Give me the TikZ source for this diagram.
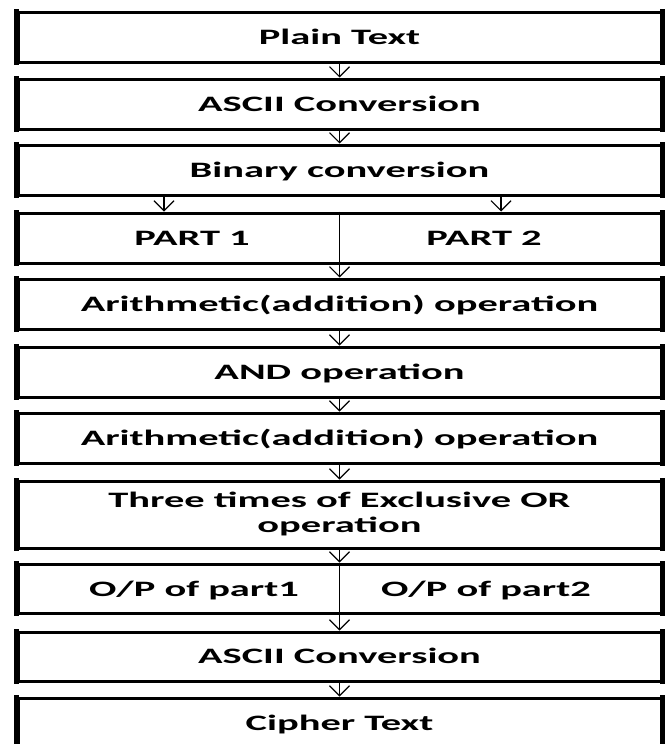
\documentclass[tikz,border=0pt]{standalone}
\usepackage{fontspec}
\setmainfont{Carlito}[FakeStretch=1.84]
\usetikzlibrary{arrows.meta}
\begin{document}
\begin{tikzpicture}[x=1pt,y=-1pt,
  stagebox/.style={draw, line width=3pt, minimum width=643pt, inner sep=0pt,
    font=\fontsize{22}{25}\selectfont\bfseries, align=center,
    append after command={
      (\tikzlastnode.north west) edge[draw, line width=5pt, shorten <=-1.5pt, shorten >=-1.5pt] (\tikzlastnode.south west)
      (\tikzlastnode.north east) edge[draw, line width=5pt, shorten <=-1.5pt, shorten >=-1.5pt] (\tikzlastnode.south east)}},
  stage/.style={stagebox, text height=14pt, text depth=0pt},
  lbl/.style={inner sep=0pt, font=\fontsize{22}{25}\selectfont\bfseries, text height=14pt, text depth=0pt},
  arr/.style={draw, line width=1.1pt, -{Straight Barb[length=10pt,width=20pt,line width=1.1pt]}},
  divider/.style={draw, line width=1.3pt}]
\useasboundingbox (0,0) rectangle (667,744);
\node[stage, minimum height=50pt] (b1) at (339.5,37) {Plain Text};
\node[stage, minimum height=50pt] (b2) at (339.5,104) {ASCII Conversion};
\node[stage, minimum height=50pt] (b3) at (339.5,170) {Binary conversion};
\node[stage, minimum height=50pt] (b4) at (339.5,238) {};
\node[lbl] (p1) at (192,238) {PART 1};
\node[lbl] (p2) at (484,238) {PART 2};
\node[stage, minimum height=50pt] (b5) at (339.5,304) {Arithmetic(addition) operation};
\node[stage, minimum height=50pt] (b6) at (339.5,372) {AND operation};
\node[stage, minimum height=50pt] (b7) at (339.5,438) {Arithmetic(addition) operation};
\node[stagebox, minimum height=67pt] (b8) at (339.5,514.5) {\raisebox{-6pt}{\begin{tabular}{@{}c@{}}Three times of Exclusive OR\\operation\end{tabular}}};
\node[stage, minimum height=49pt] (b9) at (339.5,588.5) {};
\node[lbl] (o1) at (194,589) {O/P of part1};
\node[lbl] (o2) at (486,589) {O/P of part2};
\node[stage, minimum height=49pt] (b10) at (339.5,656.5) {ASCII Conversion};
\node[stage, minimum height=50pt] (b11) at (339.5,723) {Cipher Text};
\coordinate (c1) at (164,0);
\coordinate (c2) at (501,0);
\draw[arr] (b1.south) -- (b2.north);
\draw[arr] (b2.south) -- (b3.north);
\draw[arr] (b3.south -| c1) -- (b4.north -| c1);
\draw[arr] (b3.south -| c2) -- (b4.north -| c2);
\draw[divider] (b4.north) -- (b4.south);
\draw[arr] (b4.south) -- (b5.north);
\draw[arr] (b5.south) -- (b6.north);
\draw[arr] (b6.south) -- (b7.north);
\draw[arr] (b7.south) -- (b8.north);
\draw[arr] (b8.south) -- (b9.north);
\draw[divider] (b9.north) -- (b9.south);
\draw[arr] (b9.south) -- (b10.north);
\draw[arr] (b10.south) -- (b11.north);
\end{tikzpicture}
\end{document}
